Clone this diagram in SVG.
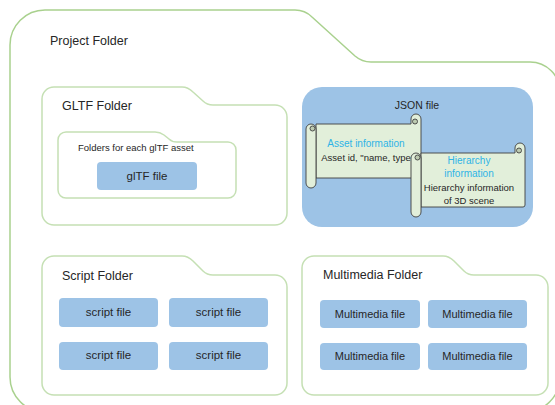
<svg xmlns="http://www.w3.org/2000/svg" width="555" height="405" viewBox="0 0 555 405">
<style>
text{font-family:"Liberation Sans",Arial,sans-serif;fill:#262626}
.outer{fill:#fff;stroke:#A9D18E;stroke-width:1.5}
.fold{fill:#fff;stroke:#C5E0B4;stroke-width:1.5}
.box{fill:#9DC3E6}
.title{font-size:12.5px}
.bt{font-size:11.5px;text-anchor:middle}
.mt{font-size:11px;text-anchor:middle}
.sc{fill:#E2EFDA;stroke:#404040;stroke-width:0.9}
.scd{fill:#BCCAB0;stroke:#404040;stroke-width:0.9}
.cy{font-size:10px;fill:#2EB4E6;text-anchor:middle}
.bk{font-size:9.5px;text-anchor:middle}
</style>
<g id="project-folder">
<path class="outer" d="M10,45 A35,35 0 0 1 45,10 H295 Q305,10 312,17 L355,56 Q362,62 371,62 H530 A30,30 0 0 1 560,92 V377 A35,35 0 0 1 525,412 H45 A35,35 0 0 1 10,377 Z"/>
<text class="title" x="50" y="45">Project Folder</text>
</g>
<g id="gltf-folder">
<path class="fold" d="M42,99 A12,12 0 0 1 54,87 H182 Q188,87 193,92 L203,101 Q207,105 213,105 H275 A12,12 0 0 1 287,117 V213 A12,12 0 0 1 275,225 H54 A12,12 0 0 1 42,213 Z"/>
<text class="title" x="62" y="110">GLTF Folder</text>
</g>
<g id="asset-folder">
<path class="fold" d="M58,140 A8,8 0 0 1 66,132 H155 Q160,132 164,135 L169,139 Q172,142 177,142 H228 A8,8 0 0 1 236,150 V190 A8,8 0 0 1 228,198 H66 A8,8 0 0 1 58,190 Z"/>
<text x="78" y="151" style="font-size:9.5px">Folders for each glTF asset</text>
</g>
<g id="gltf-file">
<rect class="box" x="97" y="162" width="100" height="28" rx="4"/>
<text class="bt" x="147" y="180">glTF file</text>
</g>
<g id="json-file">
<rect class="box" x="302" y="87" width="231" height="140" rx="20"/>
<text x="417" y="109" style="font-size:10.5px;text-anchor:middle">JSON file</text>
</g>
<g id="asset-information">
<path class="sc" d="M316,124 H411 V119 A5,5 0 0 1 421,119 V176 Q421,178 419,178 H316 Z"/>
<circle class="scd" cx="415" cy="121.5" r="2.5"/>
<path class="sc" d="M306,129 A5,5 0 0 1 316,129 V183 A5,5 0 0 1 306,183 Z"/>
<circle class="scd" cx="312.5" cy="128.5" r="2.5"/>
<text class="cy" x="366" y="147">Asset information</text>
<text class="bk" x="366" y="161">Asset id, "name, type</text>
</g>
<g id="hierarchy-information">
<path class="sc" d="M421,153 H515 V148 A5,5 0 0 1 525,148 V205 Q525,207 523,207 H421 Z"/>
<circle class="scd" cx="519" cy="150.5" r="2.5"/>
<path class="sc" d="M411,158 A5,5 0 0 1 421,158 V212 A5,5 0 0 1 411,212 Z"/>
<circle class="scd" cx="417.5" cy="157.5" r="2.5"/>
<text class="cy" x="469" y="164">Hierarchy</text>
<text class="cy" x="469" y="177">information</text>
<text class="bk" x="469" y="191">Hierarchy information</text>
<text class="bk" x="469" y="204">of 3D scene</text>
</g>
<g id="script-folder">
<path class="fold" d="M42,268 A12,12 0 0 1 54,256 H182 Q188,256 193,261 L203,271 Q207,275 213,275 H275 A12,12 0 0 1 287,287 V383 A12,12 0 0 1 275,395 H54 A12,12 0 0 1 42,383 Z"/>
<text class="title" x="62" y="280">Script Folder</text>
</g>
<g id="script-file-1"><rect class="box" x="59" y="298" width="99" height="29" rx="4"/><text class="bt" x="108.5" y="316">script file</text></g>
<g id="script-file-2"><rect class="box" x="169" y="298" width="99" height="29" rx="4"/><text class="bt" x="218.5" y="316">script file</text></g>
<g id="script-file-3"><rect class="box" x="59" y="342" width="99" height="28" rx="4"/><text class="bt" x="108.5" y="359">script file</text></g>
<g id="script-file-4"><rect class="box" x="169" y="342" width="99" height="28" rx="4"/><text class="bt" x="218.5" y="359">script file</text></g>
<g id="multimedia-folder">
<path class="fold" d="M302,268 A12,12 0 0 1 314,256 H443 Q449,256 454,261 L464,271 Q468,275 474,275 H536 A12,12 0 0 1 548,287 V383 A12,12 0 0 1 536,395 H314 A12,12 0 0 1 302,383 Z"/>
<text class="title" x="323" y="279">Multimedia Folder</text>
</g>
<g id="multimedia-file-1"><rect class="box" x="320" y="300" width="100" height="28" rx="4"/><text class="mt" x="370" y="318">Multimedia file</text></g>
<g id="multimedia-file-2"><rect class="box" x="428" y="300" width="99" height="28" rx="4"/><text class="mt" x="477.5" y="318">Multimedia file</text></g>
<g id="multimedia-file-3"><rect class="box" x="320" y="343" width="100" height="27" rx="4"/><text class="mt" x="370" y="360">Multimedia file</text></g>
<g id="multimedia-file-4"><rect class="box" x="428" y="343" width="99" height="27" rx="4"/><text class="mt" x="477.5" y="360">Multimedia file</text></g>
<g id="connectors"/>
</svg>
